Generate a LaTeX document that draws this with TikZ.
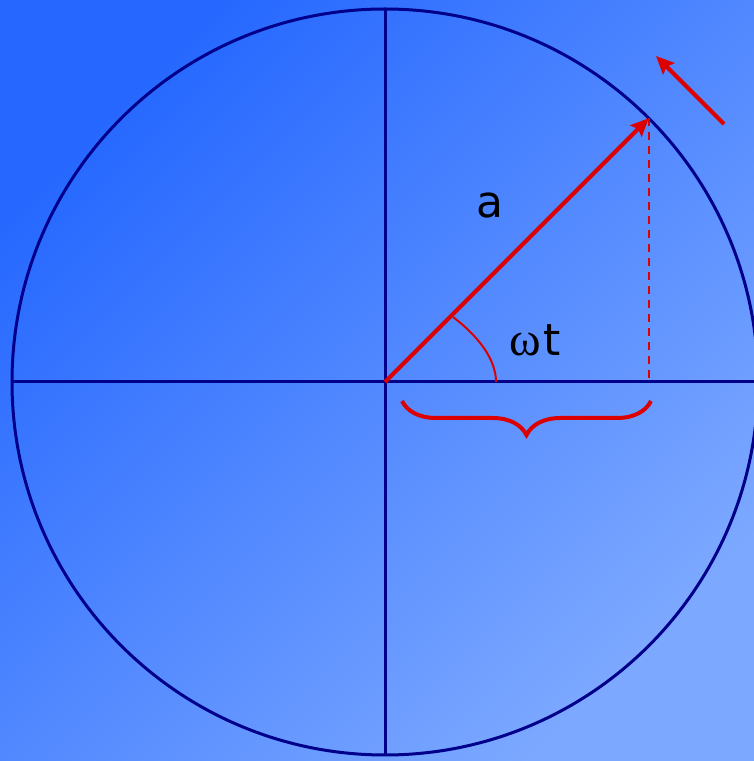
\documentclass[tikz,border=0pt]{standalone}
\usepackage{fontspec}
\setmainfont{DejaVu Sans}
\newfontfamily\omegafont{Liberation Serif}
\usepackage{tikz}
\usetikzlibrary{
  arrows.meta,
  calc,
  decorations.pathreplacing
}
\definecolor{phBgTop}{RGB}{38,104,255}
\definecolor{phBgBot}{RGB}{124,168,255}
\definecolor{phAxis}{HTML}{00008B}
\definecolor{phRed}{HTML}{DD0000}
\tikzset{
  axisline/.style={line width=1.5pt, phAxis},
  rotor/.style={-{Stealth[length=9pt, width=8pt, inset=1.5pt]}, line width=2pt, phRed},
  foot/.style={line width=1pt, phRed, dashed, dash pattern=on 4pt off 3pt},
  anglearc/.style={line width=1pt, phRed},
  projbrace/.style={decorate, decoration={brace, mirror, amplitude=17pt},
    line width=2pt, phRed},
  lbl/.style={font=\fontsize{22}{26}\selectfont, text=black, inner sep=0pt}
}
\begin{document}
\begin{tikzpicture}[x=0.5pt, y=0.5pt]
  % background
  \useasboundingbox (0,0) rectangle (754,761);
  \shade[top color=phBgTop, bottom color=phBgBot, shading angle=45] (0,0) rectangle (754,761);
  \clip (0,0) rectangle (754,761);

  % reference circle and axes
  \coordinate (O) at (385,379);
  \coordinate (L) at (12,379);
  \coordinate (R) at (754,379);
  \coordinate (T) at (385,752);
  \coordinate (B) at (385,6);
  \draw[axisline] (O) circle[radius=373];
  \draw[axisline] (L) -- (R);
  \draw[axisline] (B) -- (T);

  % rotating vector and its projection
  \coordinate (P) at ($(O)+(45:373)$);
  \coordinate (Q) at (P |- O);
  \draw[rotor] (O) -- (P);
  \draw[foot] (P) -- (Q);

  % direction of rotation
  \coordinate (s) at (724,637);
  \coordinate (e) at (656,705);
  \draw[rotor] (s) -- (e);

  % angle
  \coordinate (a1) at (453,444);
  \coordinate (a2) at (496,379);
  \draw[anglearc] (a1) .. controls (478,425) and (496,402) .. (a2);

  % projection brace
  \coordinate (b1) at (402,360);
  \coordinate (b2) at (651,360);
  \draw[projbrace] (b1) -- (b2);

  % labels
  \node[lbl] (amp) at (490,556) {a};
  \node[lbl] (wt) at (535,421) {{\omegafont\fontsize{24}{26}\selectfont ω}\kern1.5pt t};
\end{tikzpicture}
\end{document}
